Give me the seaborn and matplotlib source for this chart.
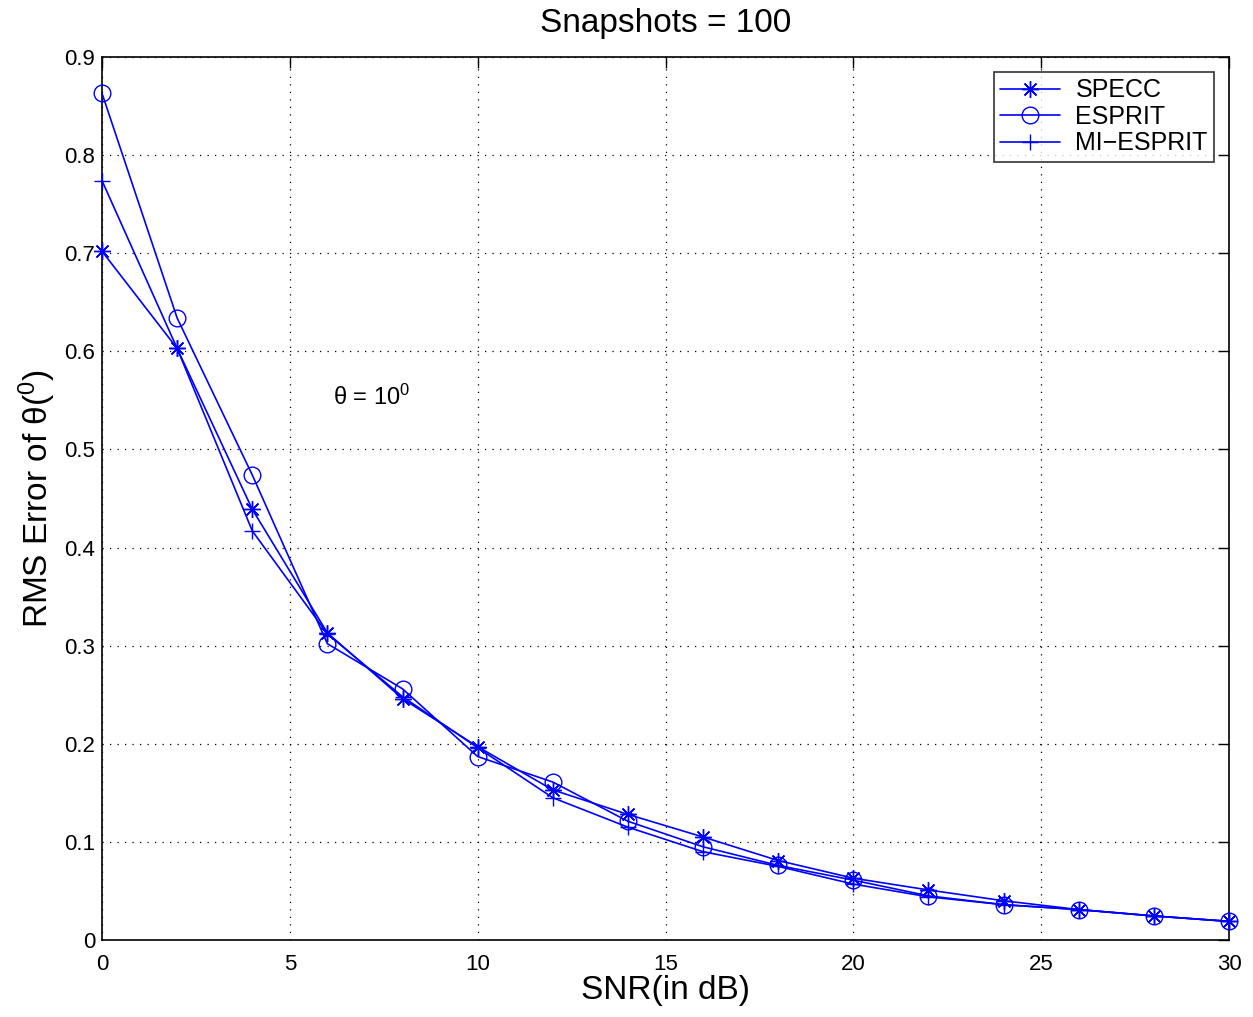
import seaborn as sns
import pandas as pd
import matplotlib.pyplot as plt

sns.set_style("white")
plt.rcParams['font.family'] = ['Liberation Sans', 'DejaVu Sans']
plt.rcParams['mathtext.fontset'] = 'custom'
plt.rcParams['mathtext.rm'] = 'Liberation Sans'
plt.rcParams['mathtext.it'] = 'Liberation Sans'
plt.rcParams['text.color'] = 'black'
plt.rcParams['axes.labelcolor'] = 'black'
plt.rcParams['xtick.color'] = 'black'
plt.rcParams['ytick.color'] = 'black'

snr = [0, 2, 4, 6, 8, 10, 12, 14, 16, 18, 20, 22, 24, 26, 28, 30]
specc = [0.702, 0.603, 0.439, 0.313, 0.246, 0.197, 0.153, 0.128, 0.105, 0.081,
         0.063, 0.051, 0.040, 0.031, 0.0245, 0.019]
esprit = [0.863, 0.634, 0.474, 0.302, 0.256, 0.187, 0.161, 0.121, 0.095, 0.076,
          0.061, 0.045, 0.036, 0.031, 0.0245, 0.019]
mi_esprit = [0.774, 0.603, 0.417, 0.312, 0.248, 0.196, 0.145, 0.115, 0.090, 0.075,
             0.057, 0.044, 0.036, 0.031, 0.0245, 0.019]

yticks = [0, 0.1, 0.2, 0.3, 0.4, 0.5, 0.6, 0.7, 0.8, 0.9]
yticklabels = ['0', '0.1', '0.2', '0.3', '0.4', '0.5', '0.6', '0.7', '0.8', '0.9']
xticks = [0, 5, 10, 15, 20, 25, 30]

series = [('SPECC', specc, (8, 2, 0)),
          ('ESPRIT', esprit, 'o'),
          ('MI\u2212ESPRIT', mi_esprit, '+')]

fig = plt.figure(figsize=(12.53, 10.17), dpi=100)
ax = fig.add_axes([102 / 1253, 77 / 1017, 1127 / 1253, 883 / 1017])

for name, vals, mk in series:
    df = pd.DataFrame({'snr': snr, 'rms': vals})
    sns.lineplot(x='snr', y='rms', data=df, ax=ax, color='#0000ff', linewidth=1.2,
                 marker=mk, markersize=12, markerfacecolor='none',
                 markeredgecolor='#0000ff', markeredgewidth=1.0, label=name,
                 clip_on=False, zorder=3)

ax.set_xlim(0, 30)
ax.set_ylim(0, 0.9)
ax.set_xticks(xticks)
ax.set_xticklabels([str(v) for v in xticks], fontsize=16)
ax.set_yticks(yticks)
ax.set_yticklabels(yticklabels, fontsize=16)
ax.tick_params(direction='in', length=8, width=1, top=True, right=True, pad=5)
ax.tick_params(axis='x', pad=10)
ax.grid(True, color='black', linestyle=(0, (1, 5)), linewidth=0.9)
for s in ax.spines.values():
    s.set_color('black')
    s.set_linewidth(1.2)

ax.set_xlabel('SNR(in dB)', fontsize=24, labelpad=0)
ax.set_ylabel(r'RMS Error of θ($^0$)', fontsize=24, labelpad=4)
ax.set_title('Snapshots = 100', fontsize=24, pad=18)
ax.text(6.15, 0.545, r'θ = 10$^0$', fontsize=17)

leg = ax.legend(loc='upper right', fontsize=18, frameon=True, fancybox=False,
                edgecolor='black', borderaxespad=0.6, handlelength=2.4,
                labelspacing=0.1, borderpad=0.25, handletextpad=0.6)
leg.get_frame().set_linewidth(1.2)

plt.savefig('out.png', dpi=100)
